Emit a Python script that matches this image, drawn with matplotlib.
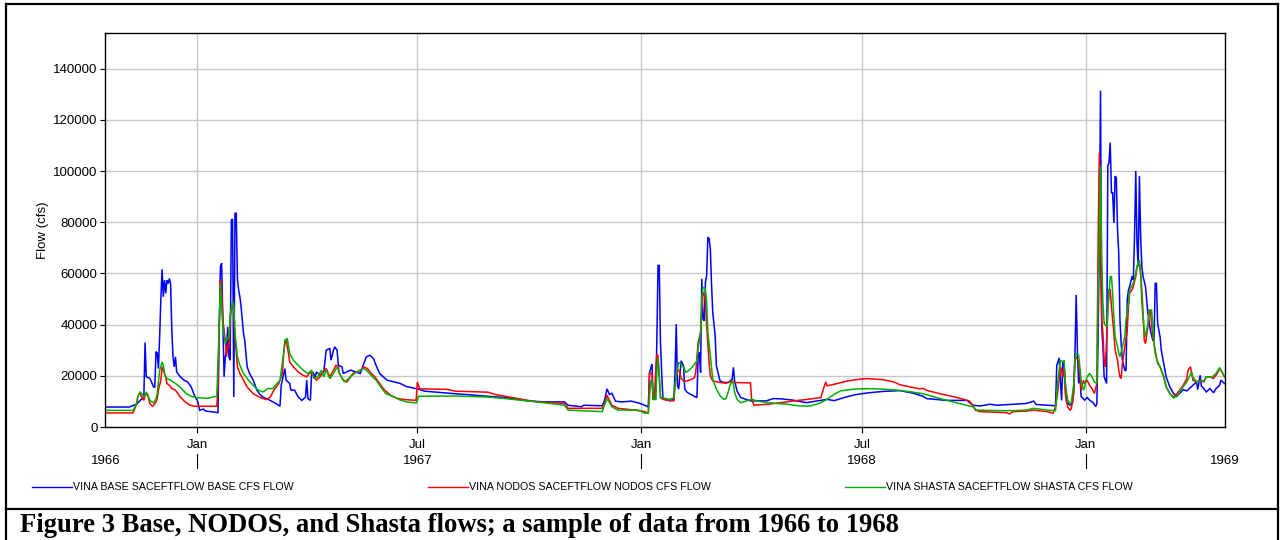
import pandas as pd
import matplotlib
matplotlib.use("Agg")
import matplotlib.pyplot as plt
import matplotlib.dates as mdates
from matplotlib.lines import Line2D
from matplotlib.ticker import MultipleLocator, FuncFormatter

plt.rcParams['font.family'] = ['Liberation Sans', 'DejaVu Sans']

# 1. DATA (daily flow, cfs)
base_flow = [
    ("1966-10-17", 7800), ("1966-11-06", 7800), ("1966-11-12", 8900), ("1966-11-15", 10400),
    ("1966-11-18", 11700), ("1966-11-19", 33000), ("1966-11-20", 19600), ("1966-11-23", 19000),
    ("1966-11-26", 15600), ("1966-11-27", 15600), ("1966-11-28", 29400), ("1966-11-29", 29000),
    ("1966-11-30", 22800), ("1966-12-01", 35200), ("1966-12-02", 50000), ("1966-12-03", 61600),
    ("1966-12-04", 50900), ("1966-12-05", 57400), ("1966-12-06", 52200), ("1966-12-07", 57400),
    ("1966-12-08", 56000), ("1966-12-09", 58000), ("1966-12-10", 56000), ("1966-12-11", 37800),
    ("1966-12-12", 27400), ("1966-12-13", 23500), ("1966-12-14", 27400), ("1966-12-15", 21500),
    ("1966-12-18", 19600), ("1966-12-21", 18300), ("1966-12-24", 17600), ("1966-12-27", 15600),
    ("1966-12-29", 13000), ("1966-12-31", 11100), ("1967-01-01", 10400), ("1967-01-03", 6500),
    ("1967-01-06", 7000), ("1967-01-08", 6200), ("1967-01-12", 6000), ("1967-01-18", 5600),
    ("1967-01-19", 37800), ("1967-01-20", 62600), ("1967-01-21", 64000), ("1967-01-22", 41800),
    ("1967-01-23", 19600), ("1967-01-24", 27400), ("1967-01-25", 30000), ("1967-01-26", 39100),
    ("1967-01-27", 27400), ("1967-01-28", 26100), ("1967-01-29", 80900), ("1967-01-30", 81200),
    ("1967-01-31", 11700), ("1967-02-01", 83500), ("1967-02-02", 83500), ("1967-02-03", 57400),
    ("1967-02-04", 53500), ("1967-02-05", 50900), ("1967-02-06", 47000), ("1967-02-08", 36500),
    ("1967-02-09", 33900), ("1967-02-11", 23500), ("1967-02-13", 20900), ("1967-02-16", 18300),
    ("1967-02-19", 14400), ("1967-02-21", 13000), ("1967-02-24", 11700), ("1967-03-02", 10400),
    ("1967-03-07", 9100), ("1967-03-10", 8100), ("1967-03-11", 16300), ("1967-03-14", 22800),
    ("1967-03-15", 18300), ("1967-03-18", 17000), ("1967-03-19", 14400), ("1967-03-22", 14400),
    ("1967-03-25", 11700), ("1967-03-28", 10400), ("1967-03-31", 11700), ("1967-04-01", 18300),
    ("1967-04-02", 11100), ("1967-04-04", 10400), ("1967-04-05", 20900), ("1967-04-06", 21500),
    ("1967-04-08", 19600), ("1967-04-09", 21500), ("1967-04-12", 20200), ("1967-04-15", 21500),
    ("1967-04-17", 30000), ("1967-04-20", 30700), ("1967-04-21", 26100), ("1967-04-23", 30000),
    ("1967-04-24", 31300), ("1967-04-26", 30000), ("1967-04-27", 24100), ("1967-04-30", 23500),
    ("1967-05-01", 20900), ("1967-05-07", 22200), ("1967-05-15", 20900), ("1967-05-17", 23500),
    ("1967-05-20", 27400), ("1967-05-23", 28000), ("1967-05-26", 26700), ("1967-05-28", 24100),
    ("1967-05-31", 20900), ("1967-06-06", 18300), ("1967-06-17", 17000), ("1967-06-22", 15800),
    ("1967-07-01", 14900), ("1967-07-07", 14000), ("1967-08-01", 13000), ("1967-08-28", 12000),
    ("1967-09-11", 11500), ("1967-09-30", 10200), ("1967-10-14", 9800), ("1967-10-30", 9800),
    ("1967-11-02", 8500), ("1967-11-13", 7900), ("1967-11-15", 8500), ("1967-11-30", 8300),
    ("1967-12-02", 10400), ("1967-12-04", 14900), ("1967-12-06", 12700), ("1967-12-08", 13200),
    ("1967-12-11", 10100), ("1967-12-16", 9800), ("1967-12-24", 10100), ("1967-12-30", 9400),
    ("1968-01-04", 8500), ("1968-01-07", 7800), ("1968-01-08", 21300), ("1968-01-10", 24600),
    ("1968-01-11", 10800), ("1968-01-13", 10800), ("1968-01-14", 33100), ("1968-01-15", 63100),
    ("1968-01-16", 63100), ("1968-01-17", 33100), ("1968-01-18", 21300), ("1968-01-19", 11500),
    ("1968-01-20", 10800), ("1968-01-25", 10200), ("1968-01-28", 10800), ("1968-01-29", 21300),
    ("1968-01-30", 40200), ("1968-01-31", 16100), ("1968-02-01", 14800), ("1968-02-03", 25900),
    ("1968-02-05", 23900), ("1968-02-06", 14800), ("1968-02-08", 13500), ("1968-02-13", 12200),
    ("1968-02-16", 11500), ("1968-02-17", 27800), ("1968-02-18", 29100), ("1968-02-19", 21300),
    ("1968-02-20", 57900), ("1968-02-21", 42200), ("1968-02-22", 41500), ("1968-02-23", 56600),
    ("1968-02-24", 59200), ("1968-02-25", 74200), ("1968-02-26", 73600), ("1968-02-27", 69700),
    ("1968-02-28", 55900), ("1968-02-29", 44800), ("1968-03-02", 35700), ("1968-03-03", 23900),
    ("1968-03-06", 18000), ("1968-03-09", 17400), ("1968-03-13", 17400), ("1968-03-16", 18700),
    ("1968-03-17", 23300), ("1968-03-18", 18000), ("1968-03-20", 14100), ("1968-03-23", 11500),
    ("1968-03-31", 10200), ("1968-04-13", 10200), ("1968-04-19", 11100), ("1968-04-25", 11000),
    ("1968-05-05", 10500), ("1968-05-16", 9500), ("1968-05-25", 10200), ("1968-06-02", 10800),
    ("1968-06-08", 10300), ("1968-06-16", 11500), ("1968-06-25", 12600), ("1968-07-05", 13300),
    ("1968-07-18", 13900), ("1968-08-01", 14200), ("1968-08-12", 13200), ("1968-08-20", 12000),
    ("1968-08-23", 11100), ("1968-09-08", 10400), ("1968-09-25", 10400), ("1968-09-30", 8500),
    ("1968-10-06", 8200), ("1968-10-14", 8900), ("1968-10-20", 8500), ("1968-11-02", 8900),
    ("1968-11-13", 9200), ("1968-11-19", 10100), ("1968-11-21", 8800), ("1968-11-30", 8500),
    ("1968-12-07", 8300), ("1968-12-08", 24000), ("1968-12-10", 27000), ("1968-12-11", 18000),
    ("1968-12-12", 10400), ("1968-12-13", 25700), ("1968-12-14", 25000), ("1968-12-15", 18000),
    ("1968-12-16", 9800), ("1968-12-19", 8500), ("1968-12-21", 9500), ("1968-12-22", 15500),
    ("1968-12-23", 28800), ("1968-12-24", 51600), ("1968-12-25", 30000), ("1968-12-26", 17000),
    ("1968-12-27", 22000), ("1968-12-28", 12000), ("1968-12-31", 10500), ("1969-01-02", 11500),
    ("1969-01-04", 10500), ("1969-01-07", 9500), ("1969-01-09", 8000), ("1969-01-10", 9000),
    ("1969-01-11", 34000), ("1969-01-12", 71900), ("1969-01-13", 131400), ("1969-01-14", 39200),
    ("1969-01-15", 31400), ("1969-01-16", 19600), ("1969-01-18", 17000), ("1969-01-19", 102000),
    ("1969-01-20", 103300), ("1969-01-21", 111100), ("1969-01-22", 91500), ("1969-01-23", 91500),
    ("1969-01-24", 79700), ("1969-01-25", 98000), ("1969-01-26", 97400), ("1969-01-27", 77100),
    ("1969-01-28", 68000), ("1969-01-29", 41800), ("1969-01-30", 32700), ("1969-01-31", 26100),
    ("1969-02-02", 22200), ("1969-02-03", 22000), ("1969-02-04", 49700), ("1969-02-05", 53600),
    ("1969-02-06", 54900), ("1969-02-08", 58800), ("1969-02-09", 57500), ("1969-02-10", 74500),
    ("1969-02-11", 100000), ("1969-02-12", 71900), ("1969-02-13", 62700), ("1969-02-14", 98000),
    ("1969-02-15", 75000), ("1969-02-16", 62700), ("1969-02-17", 58800), ("1969-02-19", 54900),
    ("1969-02-20", 49600), ("1969-02-21", 44400), ("1969-02-23", 37800), ("1969-02-25", 33900),
    ("1969-02-26", 33900), ("1969-02-27", 56100), ("1969-02-28", 56100), ("1969-03-01", 40500),
    ("1969-03-03", 35200), ("1969-03-04", 30000), ("1969-03-06", 24800), ("1969-03-08", 19600),
    ("1969-03-11", 15700), ("1969-03-14", 13100), ("1969-03-17", 12100), ("1969-03-19", 13100),
    ("1969-03-22", 14600), ("1969-03-25", 14100), ("1969-03-27", 15000), ("1969-03-30", 16300),
    ("1969-04-02", 17600), ("1969-04-03", 14600), ("1969-04-05", 20200), ("1969-04-06", 16000),
    ("1969-04-08", 15000), ("1969-04-10", 13700), ("1969-04-13", 15000), ("1969-04-16", 13400),
    ("1969-04-18", 15000), ("1969-04-21", 16300), ("1969-04-22", 18300), ("1969-04-25", 17000),
]

nodos_flow = [
    ("1966-10-17", 5500), ("1966-11-09", 5500), ("1966-11-10", 6500), ("1966-11-12", 9100),
    ("1966-11-13", 11700), ("1966-11-15", 13700), ("1966-11-16", 11700), ("1966-11-18", 10400),
    ("1966-11-19", 12300), ("1966-11-21", 13000), ("1966-11-22", 11100), ("1966-11-23", 9100),
    ("1966-11-25", 8100), ("1966-11-26", 8500), ("1966-11-28", 9800), ("1966-11-29", 11100),
    ("1966-11-30", 14400), ("1966-12-02", 18300), ("1966-12-03", 23500), ("1966-12-04", 22200),
    ("1966-12-06", 19600), ("1966-12-07", 17000), ("1966-12-09", 16300), ("1966-12-11", 15000),
    ("1966-12-14", 14400), ("1966-12-18", 11700), ("1966-12-22", 9800), ("1966-12-26", 8500),
    ("1966-12-30", 8100), ("1967-01-17", 8100), ("1967-01-18", 15600), ("1967-01-19", 39100),
    ("1967-01-20", 57400), ("1967-01-21", 53500), ("1967-01-22", 41800), ("1967-01-24", 33900),
    ("1967-01-25", 27400), ("1967-01-26", 31300), ("1967-01-27", 31300), ("1967-01-28", 43100),
    ("1967-01-30", 48300), ("1967-01-31", 47000), ("1967-02-01", 35200), ("1967-02-03", 23500),
    ("1967-02-05", 20900), ("1967-02-08", 18300), ("1967-02-11", 15600), ("1967-02-16", 13000),
    ("1967-02-21", 11700), ("1967-02-24", 11100), ("1967-02-27", 10700), ("1967-03-02", 11700),
    ("1967-03-05", 14400), ("1967-03-09", 17000), ("1967-03-12", 20900), ("1967-03-13", 28700),
    ("1967-03-14", 32600), ("1967-03-15", 33900), ("1967-03-17", 28700), ("1967-03-18", 25400),
    ("1967-03-21", 23500), ("1967-03-25", 21500), ("1967-03-29", 20200), ("1967-04-01", 19600),
    ("1967-04-04", 21500), ("1967-04-07", 19600), ("1967-04-09", 18300), ("1967-04-12", 19600),
    ("1967-04-14", 21500), ("1967-04-17", 22800), ("1967-04-20", 19600), ("1967-04-23", 22200),
    ("1967-04-25", 24100), ("1967-04-27", 23500), ("1967-04-28", 20900), ("1967-05-01", 18300),
    ("1967-05-04", 17600), ("1967-05-07", 19600), ("1967-05-09", 20900), ("1967-05-12", 21500),
    ("1967-05-15", 22200), ("1967-05-18", 23500), ("1967-05-21", 22800), ("1967-05-23", 21500),
    ("1967-05-27", 19600), ("1967-05-31", 17000), ("1967-06-04", 14400), ("1967-06-10", 12000),
    ("1967-06-15", 11100), ("1967-06-21", 10700), ("1967-06-30", 10400), ("1967-07-01", 17500),
    ("1967-07-03", 14900), ("1967-07-26", 14700), ("1967-08-01", 14000), ("1967-08-28", 13600),
    ("1967-09-03", 12700), ("1967-09-30", 10400), ("1967-10-08", 9800), ("1967-10-30", 9200),
    ("1967-11-02", 7300), ("1967-11-30", 7300), ("1967-12-02", 9200), ("1967-12-04", 12400),
    ("1967-12-08", 8500), ("1967-12-13", 7300), ("1967-12-27", 6600), ("1968-01-04", 6000),
    ("1968-01-07", 5400), ("1968-01-08", 21300), ("1968-01-10", 20600), ("1968-01-11", 10800),
    ("1968-01-12", 11500), ("1968-01-13", 21300), ("1968-01-14", 28400), ("1968-01-15", 27800),
    ("1968-01-16", 20000), ("1968-01-17", 11500), ("1968-01-19", 10800), ("1968-01-28", 10200),
    ("1968-01-29", 16100), ("1968-01-30", 20000), ("1968-01-31", 22600), ("1968-02-02", 21300),
    ("1968-02-03", 19000), ("1968-02-05", 18000), ("1968-02-08", 18000), ("1968-02-12", 18700),
    ("1968-02-14", 19300), ("1968-02-15", 21300), ("1968-02-17", 33100), ("1968-02-19", 37000),
    ("1968-02-20", 46100), ("1968-02-21", 52700), ("1968-02-22", 51300), ("1968-02-23", 50000),
    ("1968-02-24", 39500), ("1968-02-26", 25200), ("1968-02-27", 20000), ("1968-02-29", 18000),
    ("1968-03-06", 17400), ("1968-03-11", 17100), ("1968-03-16", 18000), ("1968-03-18", 17400),
    ("1968-03-31", 17200), ("1968-04-01", 10800), ("1968-04-03", 8500), ("1968-04-14", 8900),
    ("1968-04-25", 9500), ("1968-05-06", 10200), ("1968-05-17", 10800), ("1968-05-28", 11500),
    ("1968-05-30", 14800), ("1968-06-01", 17600), ("1968-06-02", 16100), ("1968-06-08", 16700),
    ("1968-06-19", 18000), ("1968-06-29", 18700), ("1968-07-05", 18900), ("1968-07-18", 18500),
    ("1968-07-27", 17600), ("1968-08-01", 16500), ("1968-08-17", 14900), ("1968-08-20", 15100),
    ("1968-08-23", 14300), ("1968-09-03", 13000), ("1968-09-17", 11500), ("1968-09-27", 10200),
    ("1968-09-30", 8500), ("1968-10-02", 6600), ("1968-10-06", 6000), ("1968-10-28", 5600),
    ("1968-10-30", 5100), ("1968-11-02", 6000), ("1968-11-13", 6200), ("1968-11-19", 6600),
    ("1968-11-30", 6000), ("1968-12-05", 5400), ("1968-12-07", 7900), ("1968-12-09", 14400),
    ("1968-12-11", 23500), ("1968-12-12", 22200), ("1968-12-13", 19600), ("1968-12-14", 22900),
    ("1968-12-15", 13100), ("1968-12-17", 7800), ("1968-12-19", 6500), ("1968-12-20", 7200),
    ("1968-12-22", 13100), ("1968-12-23", 26100), ("1968-12-24", 27400), ("1968-12-26", 25500),
    ("1968-12-27", 20900), ("1968-12-28", 14400), ("1968-12-29", 16300), ("1968-12-30", 18300),
    ("1968-12-31", 17000), ("1969-01-02", 18300), ("1969-01-04", 16300), ("1969-01-06", 15000),
    ("1969-01-08", 13100), ("1969-01-10", 17000), ("1969-01-11", 70600), ("1969-01-12", 107200),
    ("1969-01-13", 62700), ("1969-01-14", 41800), ("1969-01-15", 36600), ("1969-01-16", 26100),
    ("1969-01-17", 23500), ("1969-01-18", 34000), ("1969-01-19", 44400), ("1969-01-20", 53600),
    ("1969-01-21", 53600), ("1969-01-22", 47000), ("1969-01-24", 36600), ("1969-01-25", 30100),
    ("1969-01-27", 26100), ("1969-01-28", 22200), ("1969-01-29", 19600), ("1969-01-30", 19000),
    ("1969-01-31", 24800), ("1969-02-02", 31400), ("1969-02-04", 37900), ("1969-02-05", 47000),
    ("1969-02-06", 52300), ("1969-02-08", 53600), ("1969-02-09", 54900), ("1969-02-11", 58800),
    ("1969-02-12", 62700), ("1969-02-14", 64000), ("1969-02-15", 60100), ("1969-02-16", 53600),
    ("1969-02-17", 44400), ("1969-02-18", 33900), ("1969-02-19", 32600), ("1969-02-21", 39200),
    ("1969-02-22", 44400), ("1969-02-23", 45700), ("1969-02-25", 35200), ("1969-02-27", 30000),
    ("1969-02-28", 27400), ("1969-03-01", 24800), ("1969-03-03", 23500), ("1969-03-04", 22200),
    ("1969-03-06", 19600), ("1969-03-07", 17600), ("1969-03-08", 15700), ("1969-03-11", 13100),
    ("1969-03-14", 11700), ("1969-03-17", 13100), ("1969-03-19", 14400), ("1969-03-22", 16300),
    ("1969-03-25", 18900), ("1969-03-26", 22200), ("1969-03-28", 23500), ("1969-03-29", 20900),
    ("1969-03-30", 18300), ("1969-04-02", 17600), ("1969-04-05", 18300), ("1969-04-08", 17600),
    ("1969-04-10", 19600), ("1969-04-13", 19600), ("1969-04-16", 19000), ("1969-04-19", 20900),
    ("1969-04-21", 22800), ("1969-04-23", 21500), ("1969-04-25", 19600),
]

shasta_flow = [
    ("1966-10-17", 6500), ("1966-11-09", 6500), ("1966-11-10", 7200), ("1966-11-12", 9100),
    ("1966-11-13", 11700), ("1966-11-15", 13700), ("1966-11-16", 13000), ("1966-11-18", 11700),
    ("1966-11-20", 13700), ("1966-11-23", 10400), ("1966-11-26", 9400), ("1966-11-28", 11000),
    ("1966-11-29", 13000), ("1966-12-01", 22200), ("1966-12-03", 25400), ("1966-12-04", 24100),
    ("1966-12-05", 20900), ("1966-12-07", 18900), ("1966-12-10", 18300), ("1966-12-12", 17600),
    ("1966-12-15", 16700), ("1966-12-19", 15000), ("1966-12-23", 13000), ("1966-12-27", 12000),
    ("1966-12-31", 11500), ("1967-01-09", 11200), ("1967-01-17", 12000), ("1967-01-18", 26000),
    ("1967-01-19", 39100), ("1967-01-20", 56000), ("1967-01-21", 47000), ("1967-01-22", 39000),
    ("1967-01-24", 32600), ("1967-01-25", 33900), ("1967-01-27", 35200), ("1967-01-28", 43100),
    ("1967-01-30", 49300), ("1967-01-31", 47000), ("1967-02-01", 36500), ("1967-02-03", 27400),
    ("1967-02-05", 24100), ("1967-02-08", 20900), ("1967-02-12", 18300), ("1967-02-16", 16300),
    ("1967-02-20", 14400), ("1967-02-24", 13700), ("1967-02-28", 15000), ("1967-03-04", 15000),
    ("1967-03-10", 18300), ("1967-03-13", 28700), ("1967-03-14", 33900), ("1967-03-16", 34600),
    ("1967-03-18", 28700), ("1967-03-21", 26100), ("1967-03-25", 24100), ("1967-03-29", 22200),
    ("1967-04-02", 20900), ("1967-04-05", 22200), ("1967-04-07", 18900), ("1967-04-10", 19600),
    ("1967-04-13", 22200), ("1967-04-15", 19600), ("1967-04-17", 22200), ("1967-04-20", 18900),
    ("1967-04-23", 20900), ("1967-04-26", 23500), ("1967-04-28", 20900), ("1967-05-02", 17600),
    ("1967-05-07", 19600), ("1967-05-12", 21500), ("1967-05-18", 22800), ("1967-05-20", 22200),
    ("1967-05-24", 20200), ("1967-05-28", 18300), ("1967-06-01", 15600), ("1967-06-05", 13000),
    ("1967-06-11", 12000), ("1967-06-16", 10700), ("1967-06-22", 9800), ("1967-06-30", 9400),
    ("1967-07-01", 10400), ("1967-07-02", 12000), ("1967-08-01", 12100), ("1967-08-28", 11700),
    ("1967-09-11", 11100), ("1967-09-30", 10200), ("1967-10-30", 8500), ("1967-11-02", 6600),
    ("1967-11-30", 6000), ("1967-12-02", 8500), ("1967-12-04", 11100), ("1967-12-08", 7900),
    ("1967-12-13", 6600), ("1967-12-30", 6600), ("1968-01-04", 5400), ("1968-01-07", 5400),
    ("1968-01-09", 18000), ("1968-01-10", 18000), ("1968-01-11", 10800), ("1968-01-13", 10800),
    ("1968-01-14", 21300), ("1968-01-15", 27200), ("1968-01-16", 20000), ("1968-01-17", 11500),
    ("1968-01-25", 10800), ("1968-01-28", 11500), ("1968-01-29", 16100), ("1968-01-30", 20000),
    ("1968-02-01", 25200), ("1968-02-03", 24600), ("1968-02-05", 23300), ("1968-02-07", 21300),
    ("1968-02-09", 22000), ("1968-02-12", 23300), ("1968-02-14", 24600), ("1968-02-16", 25900),
    ("1968-02-17", 30500), ("1968-02-19", 37000), ("1968-02-20", 50000), ("1968-02-21", 54600),
    ("1968-02-23", 54000), ("1968-02-24", 48700), ("1968-02-25", 37000), ("1968-02-27", 27800),
    ("1968-02-29", 18700), ("1968-03-03", 14800), ("1968-03-06", 12200), ("1968-03-09", 10800),
    ("1968-03-11", 11100), ("1968-03-13", 14100), ("1968-03-14", 16100), ("1968-03-16", 18000),
    ("1968-03-17", 16700), ("1968-03-18", 13500), ("1968-03-20", 10800), ("1968-03-23", 9500),
    ("1968-04-01", 10800), ("1968-04-08", 9900), ("1968-04-19", 9300), ("1968-04-30", 8900),
    ("1968-05-11", 8200), ("1968-05-19", 8200), ("1968-05-27", 9300), ("1968-06-02", 10800),
    ("1968-06-08", 12800), ("1968-06-13", 14100), ("1968-06-24", 14800), ("1968-07-05", 15000),
    ("1968-07-18", 14800), ("1968-08-01", 14300), ("1968-08-12", 13600), ("1968-08-20", 13000),
    ("1968-09-03", 11100), ("1968-09-17", 9400), ("1968-09-27", 8200), ("1968-09-30", 7900),
    ("1968-10-03", 6600), ("1968-10-20", 6400), ("1968-11-02", 6400), ("1968-11-13", 6600),
    ("1968-11-19", 7300), ("1968-11-30", 6600), ("1968-12-07", 6400), ("1968-12-09", 18300),
    ("1968-12-11", 26100), ("1968-12-13", 25500), ("1968-12-14", 26100), ("1968-12-15", 17000),
    ("1968-12-17", 10500), ("1968-12-19", 9100), ("1968-12-20", 9500), ("1968-12-22", 17000),
    ("1968-12-23", 26100), ("1968-12-24", 28800), ("1968-12-26", 28000), ("1968-12-27", 23500),
    ("1968-12-28", 18300), ("1968-12-30", 14400), ("1968-12-31", 15500), ("1969-01-01", 18300),
    ("1969-01-02", 19600), ("1969-01-04", 20900), ("1969-01-06", 19600), ("1969-01-08", 17600),
    ("1969-01-10", 17000), ("1969-01-11", 52300), ("1969-01-12", 71900), ("1969-01-13", 102000),
    ("1969-01-14", 65400), ("1969-01-15", 48400), ("1969-01-16", 40500), ("1969-01-18", 39200),
    ("1969-01-19", 45700), ("1969-01-20", 52300), ("1969-01-21", 58800), ("1969-01-22", 58800),
    ("1969-01-23", 52300), ("1969-01-24", 43100), ("1969-01-25", 35300), ("1969-01-27", 31400),
    ("1969-01-28", 28800), ("1969-01-29", 27400), ("1969-01-31", 31400), ("1969-02-02", 35300),
    ("1969-02-03", 41800), ("1969-02-05", 48400), ("1969-02-06", 53600), ("1969-02-09", 56200),
    ("1969-02-11", 60100), ("1969-02-12", 62700), ("1969-02-14", 65300), ("1969-02-15", 60000),
    ("1969-02-16", 48300), ("1969-02-18", 37800), ("1969-02-19", 35200), ("1969-02-21", 40500),
    ("1969-02-22", 45700), ("1969-02-24", 45700), ("1969-02-25", 39200), ("1969-02-26", 32600),
    ("1969-02-27", 28700), ("1969-03-01", 25400), ("1969-03-03", 23500), ("1969-03-06", 19600),
    ("1969-03-08", 15700), ("1969-03-11", 13100), ("1969-03-14", 11400), ("1969-03-17", 12000),
    ("1969-03-19", 13700), ("1969-03-22", 15700), ("1969-03-25", 17600), ("1969-03-27", 19600),
    ("1969-03-29", 21500), ("1969-03-30", 19600), ("1969-04-02", 17600), ("1969-04-05", 18000),
    ("1969-04-08", 18000), ("1969-04-10", 19600), ("1969-04-15", 19600), ("1969-04-18", 20900),
    ("1969-04-21", 23200), ("1969-04-23", 21500), ("1969-04-25", 19600),
]

series_names = ["VINA BASE SACEFTFLOW BASE CFS FLOW",
                "VINA NODOS SACEFTFLOW NODOS CFS FLOW",
                "VINA SHASTA SACEFTFLOW SHASTA CFS FLOW"]
series_colors = ["#0000ff", "#ff0000", "#00b000"]

x_start, x_end = "1966-10-17 07:00", "1969-04-25 10:00"
y_max = 153800
year_labels = ["1966", "1967", "1968", "1969"]
year_label_dates = [x_start, "1967-07-01", "1968-07-01", x_end]
year_breaks = ["1967-01-01", "1968-01-01", "1969-01-01"]
y_label = "Flow (cfs)"
caption = "Figure 3 Base, NODOS, and Shasta flows; a sample of data from 1966 to 1968"

# 2. FIGURE
W, H = 1281, 540
fig = plt.figure(figsize=(W / 100, H / 100), dpi=100)

def fx(px):
    return px / W

def fy(py):
    return 1 - py / H

ax = fig.add_axes([fx(105.3), fy(427), fx(1225) - fx(105.3), fy(33.3) - fy(427)])

for pts, color in zip([base_flow, nodos_flow, shasta_flow], series_colors):
    dates = pd.to_datetime([p[0] for p in pts])
    vals = [p[1] for p in pts]
    ax.plot(dates, vals, color=color, lw=1.1, solid_joinstyle="miter")

ax.set_xlim(pd.Timestamp(x_start), pd.Timestamp(x_end))
ax.set_ylim(0, y_max)

ax.yaxis.set_major_locator(MultipleLocator(20000))
ax.yaxis.set_major_formatter(FuncFormatter(lambda v, p: f"{int(v)}"))
ax.xaxis.set_major_locator(mdates.MonthLocator(bymonth=[1, 7]))
ax.xaxis.set_major_formatter(mdates.DateFormatter("%b"))

ax.grid(True, color="#c8c8c8", lw=1.0)
ax.set_axisbelow(True)
for s in ax.spines.values():
    s.set_color("black")
    s.set_linewidth(1.0)
ax.tick_params(axis="x", length=4.3, width=0.8, pad=4, labelsize=9.5)
ax.tick_params(axis="y", length=3.6, width=0.8, pad=2, labelsize=9.5)

ax.set_ylabel(y_label, fontsize=9.5)
ax.yaxis.set_label_coords(-0.05, 0.5)

# year row under the month labels
xt = ax.get_xaxis_transform()
for lab, d in zip(year_labels, year_label_dates):
    ax.text(pd.Timestamp(d), -(461 - 427) / 393.7, lab, transform=xt,
            ha="center", va="center", fontsize=9.5)
for d in year_breaks:
    ax.plot([pd.Timestamp(d)] * 2, [-(454 - 427) / 393.7, -(468 - 427) / 393.7],
            transform=xt, color="black", lw=0.8, clip_on=False)

# legend row
leg_x = [32, 428, 845]
for x0, name, color in zip(leg_x, series_names, series_colors):
    fig.add_artist(Line2D([fx(x0), fx(x0 + 40)], [fy(487), fy(487)],
                          transform=fig.transFigure, color=color, lw=1.0))
    fig.text(fx(x0 + 41), fy(487), name, fontsize=7.7, ha="left", va="center")

# outer frame and caption box
frame = dict(transform=fig.transFigure, color="black", lw=1.6)
fig.add_artist(Line2D([fx(5.5), fx(1278)], [fy(3.5), fy(3.5)], **frame))
fig.add_artist(Line2D([fx(5.5), fx(5.5)], [fy(3.5), fy(541)], **frame))
fig.add_artist(Line2D([fx(1278), fx(1278)], [fy(3.5), fy(541)], **frame))
fig.add_artist(Line2D([fx(5.5), fx(1278)], [fy(508.5), fy(508.5)], **frame))

fig.text(fx(20), fy(525), caption, fontsize=19.2, fontweight="bold",
         family=["Liberation Serif", "DejaVu Serif"], ha="left", va="center")

fig.savefig("out.png", dpi=100)
